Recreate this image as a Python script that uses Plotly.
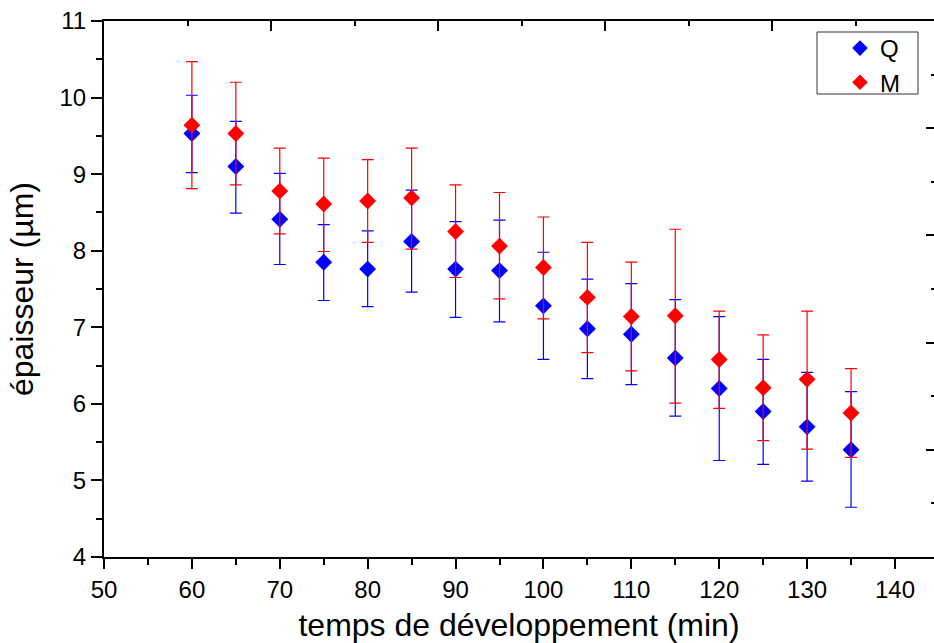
import plotly.graph_objects as go

# Data
temps = [60, 65, 70, 75, 80, 85, 90, 95, 100, 105, 110, 115, 120, 125, 130, 135]

q_val = [9.53, 9.10, 8.41, 7.85, 7.76, 8.12, 7.76, 7.74, 7.28, 6.98, 6.91, 6.60, 6.20, 5.90, 5.70, 5.40]
q_top = [10.03, 9.69, 9.01, 8.34, 8.26, 8.79, 8.38, 8.40, 7.98, 7.63, 7.57, 7.36, 7.14, 6.58, 6.41, 6.16]
q_bot = [9.02, 8.49, 7.82, 7.35, 7.27, 7.46, 7.13, 7.07, 6.58, 6.33, 6.25, 5.84, 5.26, 5.21, 4.99, 4.65]

m_val = [9.64, 9.53, 8.78, 8.61, 8.65, 8.69, 8.25, 8.06, 7.78, 7.39, 7.14, 7.15, 6.58, 6.21, 6.32, 5.88]
m_top = [10.47, 10.20, 9.34, 9.21, 9.19, 9.34, 8.86, 8.76, 8.44, 8.11, 7.85, 8.28, 7.21, 6.90, 7.21, 6.46]
m_bot = [8.81, 8.86, 8.22, 7.99, 8.11, 8.02, 7.65, 7.37, 7.11, 6.67, 6.43, 6.01, 5.94, 5.52, 5.41, 5.30]

FONT = "Liberation Sans, Arial, sans-serif"


def err(vals, tops, bots):
    plus = [round(t - v, 3) for v, t in zip(vals, tops)]
    minus = [round(v - b, 3) for v, b in zip(vals, bots)]
    return plus, minus


fig = go.Figure()
for name, vals, tops, bots, col in [
    ("Q", q_val, q_top, q_bot, "#0000FF"),
    ("M", m_val, m_top, m_bot, "#FF0000"),
]:
    plus, minus = err(vals, tops, bots)
    fig.add_trace(go.Scatter(
        x=temps, y=vals, mode="markers", name=name,
        marker=dict(symbol="diamond", size=13, color=col, line=dict(width=0)),
        error_y=dict(type="data", symmetric=False, array=plus, arrayminus=minus,
                     color=col, thickness=1.2, width=6),
    ))

# invisible trace to activate the decorative top / right axes
fig.add_trace(go.Scatter(x=[None], y=[None], xaxis="x2", yaxis="y2",
                         showlegend=False, hoverinfo="skip"))

W, H = 934, 643
ml, mr, mt, mb = 104, 0, 21, 86
PW, PH = W - ml - mr, H - mt - mb
px_per_unit = (895 - 104) / 90.0
xmax = 50 + PW / px_per_unit


def px_x(px):
    return (px - ml) / PW


def px_y(py):
    return 1 - (py - mt) / PH


# legend frame (pixel coordinates in the page)
box_l, box_r, box_t, box_b = 817, 918, 32, 94

fig.update_layout(
    width=W, height=H,
    margin=dict(l=ml, r=mr, t=mt, b=mb),
    paper_bgcolor="white", plot_bgcolor="white",
    font=dict(family=FONT, color="black"),
    showlegend=True,
    legend=dict(
        x=px_x(840), xanchor="left", y=px_y(26), yanchor="top",
        bgcolor="rgba(0,0,0,0)", borderwidth=0,
        font=dict(size=24, family=FONT),
        itemsizing="constant", tracegroupgap=0,
    ),
    shapes=[dict(
        type="rect", xref="paper", yref="paper", layer="above",
        x0=px_x(box_l), x1=px_x(box_r), y0=px_y(box_b), y1=px_y(box_t),
        line=dict(color="#333333", width=1), fillcolor="rgba(255,255,255,0)",
    )],
    xaxis=dict(
        range=[50, xmax], dtick=10, tick0=50,
        showline=True, linecolor="black", linewidth=2, mirror=False,
        ticks="outside", ticklen=10, tickwidth=2, tickcolor="black",
        minor=dict(dtick=5, ticks="outside", ticklen=6, tickwidth=1.5, tickcolor="black", showgrid=False),
        showgrid=False, zeroline=False,
        tickfont=dict(size=24, family=FONT),
        title=dict(text="temps de développement (min)", font=dict(size=32, family=FONT), standoff=13),
    ),
    yaxis=dict(
        range=[4, 11], dtick=1, tick0=4,
        showline=True, linecolor="black", linewidth=2,
        ticks="outside", ticklen=11, tickwidth=2, tickcolor="black",
        minor=dict(dtick=0.5, ticks="outside", ticklen=6, tickwidth=1.5, tickcolor="black", showgrid=False),
        showgrid=False, zeroline=False,
        tickfont=dict(size=24, family=FONT),
        title=dict(text="épaisseur (µm)", font=dict(size=32, family=FONT), standoff=16),
    ),
    xaxis2=dict(
        overlaying="x", side="top", anchor="y",
        range=[0, 5 * PW / 835.0], dtick=1, tick0=0,
        showline=True, linecolor="black", linewidth=2,
        ticks="inside", ticklen=10, tickwidth=2, tickcolor="black",
        minor=dict(dtick=0.5, ticks="inside", ticklen=5, tickwidth=1.5, tickcolor="black", showgrid=False),
        showticklabels=False, showgrid=False, zeroline=False,
    ),
    yaxis2=dict(
        overlaying="y", side="right", anchor="x",
        range=[0, 5], dtick=1, tick0=0,
        showline=False,
        ticks="inside", ticklen=8, tickwidth=2, tickcolor="black",
        minor=dict(dtick=0.5, ticks="inside", ticklen=3, tickwidth=1.5, tickcolor="black", showgrid=False),
        showticklabels=False, showgrid=False, zeroline=False,
    ),
)

fig.write_html("out.html")
